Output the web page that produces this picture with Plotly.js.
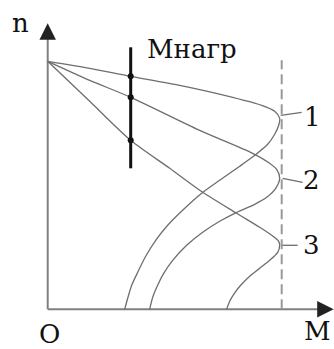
<!DOCTYPE html>
<html>
<head>
<meta charset="utf-8">
<script src="https://cdn.plot.ly/plotly-3.0.1.min.js"></script>
<style>
  html, body { margin: 0; padding: 0; background: #fff; }
  #chart { width: 334px; height: 349px; }
</style>
</head>
<body>
<div id="chart"></div>
<script>
// mechanical characteristics n(M), three curves
var curve1M = [0, 4.2, 8.3, 13.2, 18.5, 21.4, 22.7, 23.2, 23.1, 22.7, 22.0, 20.7, 19.2, 17.2, 15.4, 13.6, 12.0, 10.8, 9.8, 9.0, 8.4, 8.0, 7.7];
var curve1N = [24.8, 24.1, 23.3, 22.4, 21.2, 20.4, 19.8, 19.1, 18.4, 17.5, 16.5, 15.4, 14.3, 12.9, 11.6, 10.0, 8.4, 6.9, 5.3, 3.7, 2.4, 1.1, 0];

var curve2M = [0, 4.2, 8.3, 15.2, 20.5, 22.2, 22.9, 23.2, 22.8, 21.9, 20.7, 18.9, 17.2, 15.5, 13.9, 12.5, 11.6, 10.9, 10.5, 10.2];
var curve2N = [24.8, 22.9, 21.2, 17.9, 15.6, 14.6, 14.0, 13.1, 12.1, 11.2, 10.5, 9.7, 8.8, 7.7, 6.4, 4.9, 3.6, 2.2, 1.2, 0];

var curve3M = [0, 4.2, 8.3, 12.2, 15.5, 18.9, 21.2, 22.4, 23.1, 23.2, 23.0, 22.2, 21.2, 20.2, 19.3, 18.6, 18.2, 17.9];
var curve3N = [24.8, 20.8, 16.9, 14.1, 11.7, 9.6, 8.2, 7.4, 6.8, 6.4, 5.7, 4.9, 4.1, 3.3, 2.4, 1.5, 0.8, 0];

var curveLabels = ['1', '2', '3'];
var labelM = [26.5, 26.4, 26.4];
var labelN = [19.2, 12.9, 6.4];
var leaderM = [[23.3, 25.4], [23.5, 25.5], [23.4, 25.0]];
var leaderN = [[19.4, 19.7], [13.1, 12.7], [6.4, 6.4]];

var Mnagr = 8.3;
var nagrTop = 26.2;
var nagrBottom = 14.1;
var nagrN = [23.3, 21.2, 16.9];

var Mmax = 23.4;
var dashTop = 24.9;
var axisEndM = 28.6;
var axisEndN = 28.6;

var curveColor = '#6e6e6e';
var axisColor = '#808080';
var serif = 'DejaVu Serif';

var data = [];
// axis lines
data.push({x: [0, 0], y: [0, axisEndN - 1], mode: 'lines',
    line: {color: axisColor, width: 2}, hoverinfo: 'skip'});
data.push({x: [0, axisEndM - 1], y: [0, 0], mode: 'lines',
    line: {color: axisColor, width: 2}, hoverinfo: 'skip'});

var curvesM = [curve1M, curve2M, curve3M];
var curvesN = [curve1N, curve2N, curve3N];
for (var i = 0; i < 3; i++) {
    data.push({
        x: curvesM[i],
        y: curvesN[i],
        mode: 'lines',
        line: {color: curveColor, width: 1.3, shape: 'spline', smoothing: 0.8},
        hoverinfo: 'skip'
    });
    data.push({
        x: leaderM[i],
        y: leaderN[i],
        mode: 'lines',
        line: {color: curveColor, width: 1.3},
        hoverinfo: 'skip'
    });
}
// dashed limit line
data.push({
    x: [Mmax, Mmax],
    y: [0, dashTop],
    mode: 'lines',
    line: {color: '#999999', width: 2, dash: '10px,5px'},
    hoverinfo: 'skip'
});
// load torque line with points
data.push({
    x: [Mnagr, Mnagr],
    y: [nagrBottom, nagrTop],
    mode: 'lines',
    line: {color: '#111111', width: 3},
    hoverinfo: 'skip'
});
data.push({
    x: [Mnagr, Mnagr, Mnagr],
    y: nagrN,
    mode: 'markers',
    marker: {color: '#111111', size: 6},
    hoverinfo: 'skip'
});

var annotations = [];
// arrow heads on the axes
annotations.push({x: 0, y: axisEndN, ax: 0, ay: axisEndN - 1.5, xref: 'x', yref: 'y', axref: 'x', ayref: 'y',
    text: '', showarrow: true, arrowhead: 2, arrowsize: 2.2, arrowwidth: 1.5, arrowcolor: '#222222'});
annotations.push({x: axisEndM, y: 0, ax: axisEndM - 1.5, ay: 0, xref: 'x', yref: 'y', axref: 'x', ayref: 'y',
    text: '', showarrow: true, arrowhead: 2, arrowsize: 2.2, arrowwidth: 1.5, arrowcolor: '#222222'});

var textItems = [
    {t: 'n', x: -2.7, y: 28.6},
    {t: 'O', x: 0.2, y: -2.5},
    {t: 'M', x: 27.0, y: -2.2},
    {t: 'Мнагр', x: 14.4, y: 26.0}
];
for (var j = 0; j < curveLabels.length; j++) {
    textItems.push({t: curveLabels[j], x: labelM[j], y: labelN[j]});
}
textItems.forEach(function (d) {
    annotations.push({
        x: d.x, y: d.y, xref: 'x', yref: 'y', text: d.t, showarrow: false,
        xanchor: 'center', yanchor: 'middle',
        font: {family: serif, size: 26, color: '#111111'}
    });
});

var layout = {
    width: 334,
    height: 349,
    margin: {l: 0, r: 0, t: 0, b: 0},
    paper_bgcolor: '#ffffff',
    plot_bgcolor: '#ffffff',
    showlegend: false,
    xaxis: {range: [-4.77, 28.63], visible: false, fixedrange: true},
    yaxis: {range: [-3.97, 30.93], visible: false, fixedrange: true},
    annotations: annotations
};

Plotly.newPlot('chart', data, layout, {displayModeBar: false, staticPlot: true});
</script>
</body>
</html>
